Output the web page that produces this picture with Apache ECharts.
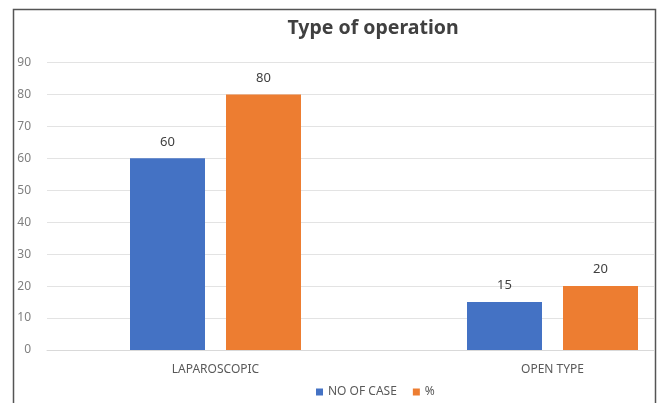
<!DOCTYPE html>
<html>
<head>
<meta charset="utf-8">
<script src="https://cdn.jsdelivr.net/npm/echarts@6/dist/echarts.min.js"></script>
<style>
html,body{margin:0;padding:0;background:#fff;}
#chart{width:662px;height:403px;}
</style>
</head>
<body>
<div id="chart"></div>
<script>
const categories = ['LAPAROSCOPIC', 'OPEN TYPE'];
const noOfCase = [60, 15];
const percent = [80, 20];
const seriesNames = ['NO OF CASE', '%'];
const yTicks = { min: 0, max: 90, interval: 10 };

const chart = echarts.init(document.getElementById('chart'), null, { renderer: 'canvas' });
const font = 'Noto Sans';
chart.setOption({
  backgroundColor: '#ffffff',
  animation: false,
  title: {
    text: 'Type of operation',
    left: 368, top: 13, textAlign: 'center',
    textStyle: { fontFamily: font, fontSize: 19.5, fontWeight: 'bold', color: '#404040' }
  },
  legend: {
    data: seriesNames,
    left: 316, top: 386, padding: 0,
    orient: 'horizontal',
    itemWidth: 7, itemHeight: 7, itemGap: 16,
    icon: 'rect',
    textStyle: { fontFamily: font, fontSize: 12, color: '#595959' }
  },
  grid: { left: 47, top: 62.5, width: 674, height: 287.5, containLabel: false, outerBoundsMode: 'none' },
  xAxis: {
    type: 'category',
    data: categories,
    axisLine: { show: true, lineStyle: { color: '#d9d9d9', width: 1 } },
    axisTick: { show: false },
    axisLabel: { fontFamily: font, fontSize: 12, color: '#595959', margin: 14 }
  },
  yAxis: {
    type: 'value',
    min: yTicks.min, max: yTicks.max, interval: yTicks.interval,
    axisLine: { show: false },
    axisTick: { show: false },
    splitLine: { lineStyle: { color: '#e3e3e3', width: 1 } },
    axisLabel: { fontFamily: font, fontSize: 12, color: '#7f7f7f', margin: 16 }
  },
  series: [
    {
      name: seriesNames[0], type: 'bar', data: noOfCase,
      barWidth: 75, barGap: '28%',
      itemStyle: { color: '#4472C4' },
      label: { show: true, position: 'top', distance: 10, fontFamily: font, fontSize: 13, color: '#404040' }
    },
    {
      name: seriesNames[1], type: 'bar', data: percent,
      barWidth: 75, barGap: '28%',
      itemStyle: { color: '#ED7D31' },
      label: { show: true, position: 'top', distance: 10, fontFamily: font, fontSize: 13, color: '#404040' }
    }
  ],
  graphic: [
    { type: 'rect', z: 100, shape: { x: 654, y: 0, width: 10, height: 403 }, style: { fill: '#ffffff' } },
    { type: 'rect', z: 101, shape: { x: 13.5, y: 9.5, width: 642, height: 420 }, style: { fill: 'none', stroke: '#555555', lineWidth: 1.5 } }
  ]
});
</script>
</body>
</html>
